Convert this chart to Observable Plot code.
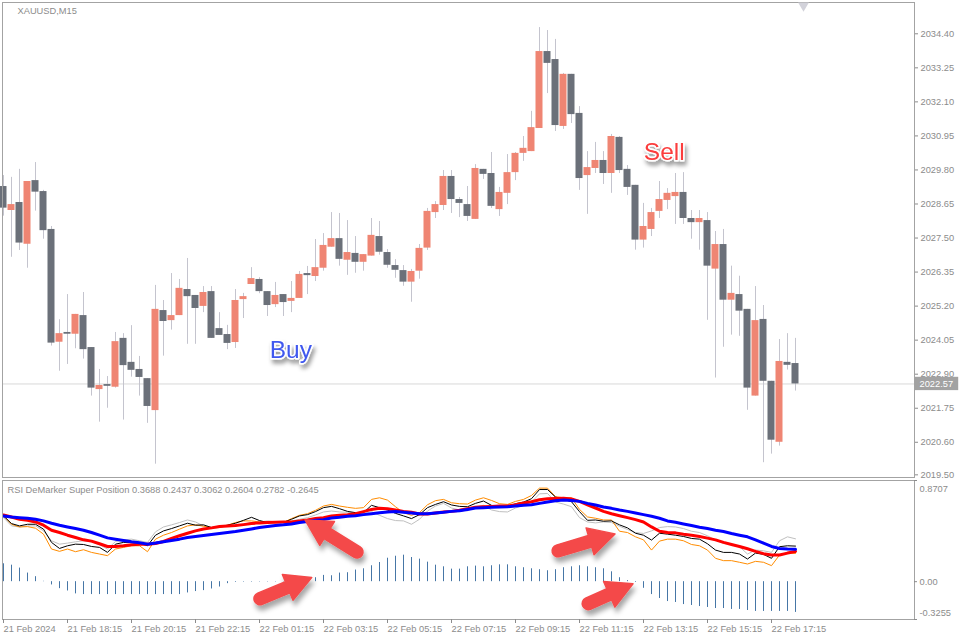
<!DOCTYPE html>
<html><head><meta charset="utf-8">
<script src="https://cdn.jsdelivr.net/npm/d3@7"></script>
<script src="https://cdn.jsdelivr.net/npm/@observablehq/plot@0.6"></script>
<style>
html,body{margin:0;padding:0;background:#fff;}
#wrap{position:relative;width:960px;height:640px;overflow:hidden;background:#fff;}
#main{position:absolute;left:0;top:0;}
#ind{position:absolute;left:0;top:478px;}
</style></head><body>
<svg width="0" height="0" style="position:absolute">
<defs>
<filter id="ashadow" x="-40%" y="-40%" width="180%" height="200%">
<feDropShadow dx="2" dy="5" stdDeviation="2.5" flood-color="#000" flood-opacity="0.35"/>
</filter>
<filter id="tshadow" x="-30%" y="-40%" width="160%" height="200%">
<feDropShadow dx="2" dy="4" stdDeviation="2" flood-color="#000" flood-opacity="0.4"/>
</filter>
</defs></svg>
<div id="wrap"><div id="main"></div><div id="ind"></div></div>
<script>
// ---- candles (XAUUSD M15) ----
const open = [2029.24,2028.43,2028.70,2027.29,2029.44,2029.07,2027.79,2023.98,2024.31,2024.25,
2024.88,2023.80,2022.38,2022.55,2022.46,2024.11,2023.30,2023.06,2022.75,2021.67,
2025.05,2024.71,2024.88,2025.76,2025.56,2025.19,2025.69,2024.44,2024.24,2023.97,
2025.42,2025.93,2026.10,2025.69,2025.25,2025.59,2025.36,2025.46,2026.30,2026.20,
2026.48,2027.19,2027.48,2026.75,2026.98,2026.68,2026.89,2027.55,2027.01,2026.57,
2026.40,2026.01,2026.38,2027.16,2028.36,2028.60,2029.58,2028.80,2028.63,2028.13,
2029.82,2029.68,2028.46,2029.01,2029.71,2030.36,2030.42,2031.20,2033.80,2033.53,
2031.27,2033.03,2031.71,2029.61,2029.85,2030.12,2029.68,2030.90,2029.82,2029.28,
2027.43,2027.79,2028.40,2028.77,2028.90,2029.04,2028.16,2028.02,2028.09,2026.45,
2027.28,2025.40,2025.59,2025.09,2022.16,2024.75,2022.66,2020.60,2023.30,2023.26];
const high = [2029.61,2029.55,2029.82,2029.41,2030.05,2029.11,2027.89,2024.74,2025.59,2024.92,
2025.66,2023.80,2023.06,2022.82,2024.31,2024.27,2024.54,2023.50,2022.75,2025.90,
2025.39,2026.30,2026.10,2026.81,2025.56,2025.86,2025.86,2024.98,2024.55,2025.76,
2025.63,2026.50,2026.16,2025.69,2026.00,2025.59,2026.03,2026.37,2026.54,2027.45,
2027.65,2028.36,2028.33,2028.09,2027.55,2026.94,2028.16,2028.06,2027.11,2026.77,
2026.57,2026.44,2027.28,2028.50,2028.73,2029.78,2029.78,2028.87,2029.24,2029.98,
2029.82,2030.39,2029.21,2030.32,2030.39,2030.93,2031.78,2034.61,2034.51,2034.21,
2033.06,2033.03,2031.94,2030.42,2030.73,2030.42,2031.00,2030.93,2029.95,2029.28,
2028.67,2028.50,2029.41,2029.17,2029.68,2029.71,2028.43,2028.43,2028.36,2027.72,
2027.79,2026.55,2026.21,2025.09,2025.86,2025.22,2022.66,2024.07,2024.27,2024.11];
const low = [2028.24,2026.85,2027.08,2026.48,2028.41,2027.46,2023.85,2023.00,2023.23,2023.76,
2023.41,2022.16,2021.28,2021.75,2022.43,2021.35,2022.80,2022.16,2021.24,2019.86,
2023.51,2024.39,2024.88,2023.91,2023.91,2024.98,2024.11,2024.21,2023.73,2023.77,
2024.78,2025.93,2025.62,2024.85,2025.15,2024.85,2024.98,2025.46,2025.59,2026.03,
2026.38,2027.19,2026.55,2026.24,2026.31,2026.38,2026.89,2026.92,2026.48,2026.14,
2025.87,2025.33,2026.11,2027.08,2028.16,2028.43,2028.33,2028.19,2028.06,2028.13,
2029.48,2028.50,2028.23,2028.63,2029.44,2030.09,2030.42,2031.20,2032.38,2031.10,
2031.17,2031.37,2029.11,2028.30,2029.68,2029.31,2029.01,2029.68,2028.94,2027.09,
2027.16,2027.55,2028.16,2028.46,2027.96,2027.96,2027.46,2027.09,2024.72,2022.77,
2023.81,2024.22,2024.18,2021.68,2022.16,2019.91,2020.20,2020.47,2023.04,2022.33];
const close = [2028.51,2028.63,2027.33,2029.41,2029.05,2027.75,2023.95,2024.27,2024.25,2024.92,
2023.73,2022.43,2022.52,2022.49,2024.00,2023.19,2023.03,2022.79,2021.81,2025.09,
2024.68,2024.88,2025.80,2025.52,2025.12,2025.66,2024.11,2024.21,2023.94,2025.39,
2025.52,2026.13,2025.69,2025.22,2025.56,2025.32,2025.46,2026.27,2026.23,2026.50,
2027.25,2027.48,2026.78,2027.01,2026.68,2026.94,2027.59,2027.02,2026.58,2026.41,
2026.01,2026.37,2027.15,2028.40,2028.63,2029.58,2028.80,2028.67,2028.23,2029.85,
2029.65,2028.57,2029.04,2029.71,2030.36,2030.53,2031.23,2033.80,2033.40,2031.30,
2033.03,2031.67,2029.51,2029.88,2030.12,2029.68,2030.93,2029.78,2029.21,2027.43,
2027.89,2028.36,2028.80,2029.01,2029.04,2028.16,2028.02,2028.16,2026.55,2027.28,
2025.40,2025.63,2025.03,2022.43,2024.71,2022.66,2020.67,2023.33,2023.20,2022.57];

// ---- indicator: RSI DeMarker Super Position ----
const grayLine = [.551,.480,.471,.480,.480,.437,.352,.323,.332,.343,.352,.343,.318,.281,.346,.360,.366,.352,.338,.429,.471,.489,.509,.531,.514,
.480,.457,.466,.480,.486,.494,.509,.514,.523,.514,.509,.523,.537,.551,.574,.600,.608,.600,.597,.594,.585,.603,.571,.543,.526,
.523,.494,.537,.608,.651,.674,.634,.617,.611,.645,.657,.617,.603,.600,.634,.657,.685,.756,.759,.685,.668,.645,.551,.514,.506,
.514,.509,.477,.449,.423,.415,.437,.466,.474,.471,.457,.434,.423,.395,.358,.329,.320,.301,.238,.272,.266,.252,.352,.386,.3688];
const orangeLine = [.566,.494,.471,.474,.460,.409,.281,.261,.281,.258,.275,.252,.238,.224,.281,.295,.309,.309,.258,.366,.400,.423,.452,.480,.489,
.477,.466,.466,.486,.509,.523,.523,.514,.517,.514,.509,.543,.571,.585,.614,.651,.665,.651,.640,.631,.637,.708,.722,.702,.645,
.594,.571,.594,.662,.697,.708,.679,.671,.668,.702,.722,.699,.671,.665,.691,.708,.742,.805,.805,.731,.722,.722,.622,.557,.546,
.531,.531,.434,.423,.386,.360,.272,.349,.366,.366,.352,.320,.309,.272,.201,.181,.181,.167,.152,.175,.167,.138,.229,.246,.2437];
const blackLine = [.566,.500,.480,.494,.494,.452,.338,.286,.309,.323,.320,.303,.295,.252,.323,.338,.338,.329,.309,.400,.437,.457,.480,.503,.486,
.489,.466,.474,.486,.503,.528,.554,.526,.509,.509,.511,.537,.566,.577,.603,.637,.648,.628,.605,.594,.594,.657,.637,.617,.588,
.566,.543,.577,.637,.665,.688,.660,.648,.645,.674,.694,.657,.640,.645,.671,.685,.714,.793,.793,.728,.708,.688,.603,.528,.531,
.520,.523,.489,.463,.417,.400,.358,.417,.409,.400,.389,.372,.366,.326,.272,.252,.252,.238,.195,.246,.235,.201,.301,.309,.3062];
const redLine = [.574,.557,.537,.528,.514,.486,.443,.423,.400,.380,.360,.349,.326,.303,.303,.309,.318,.323,.323,.329,.346,.372,.395,.417,.437,
.454,.463,.474,.480,.483,.491,.500,.506,.509,.511,.514,.514,.523,.531,.543,.551,.566,.571,.577,.585,.603,.622,.631,.628,.617,
.605,.597,.583,.583,.591,.600,.605,.614,.628,.640,.645,.648,.651,.651,.662,.677,.688,.705,.714,.716,.719,.711,.691,.662,.634,
.605,.585,.568,.551,.534,.514,.471,.434,.423,.420,.409,.400,.389,.375,.360,.338,.320,.303,.283,.261,.241,.229,.229,.246,.2604];
const blueLine = [.566,.557,.551,.546,.537,.523,.503,.486,.471,.457,.443,.423,.400,.377,.366,.355,.343,.335,.323,.332,.343,.355,.366,.380,.389,
.397,.406,.415,.423,.432,.443,.454,.466,.474,.483,.489,.497,.509,.517,.528,.534,.548,.554,.563,.568,.577,.585,.594,.600,.603,
.597,.591,.585,.585,.591,.597,.605,.611,.622,.634,.637,.640,.642,.645,.651,.657,.662,.674,.685,.697,.702,.699,.691,.674,.660,
.642,.631,.617,.605,.591,.577,.563,.546,.523,.511,.497,.483,.469,.457,.443,.432,.415,.400,.386,.360,.332,.303,.286,.281,.2782];
const hist = [.154,.142,.117,.074,.043,.003,-.028,-.060,-.080,-.105,-.111,-.111,-.111,-.111,-.111,-.111,-.111,-.111,-.111,-.111,-.111,-.111,-.111,-.097,-.085,
-.077,-.063,-.046,-.017,-.006,-.004,-.004,-.003,-.003,-.003,-.002,.002,.004,.017,.034,.054,.051,.074,.077,.100,.111,.137,.165,.202,.219,
.228,.208,.194,.168,.142,.128,.108,.108,.128,.134,.128,.137,.145,.145,.128,.120,.111,.103,.094,.103,.120,.128,.137,.128,.120,
.111,.085,.034,.009,-.006,-.057,-.111,-.145,-.171,-.179,-.197,-.205,-.214,-.222,-.231,-.231,-.239,-.239,-.248,-.256,-.256,-.256,-.256,-.256,-.2645];

// ---- tick labels ----
const priceTicks = [2034.40,2033.25,2032.10,2030.95,2029.80,2028.65,2027.50,2026.35,2025.20,2024.05,2022.90,2021.75,2020.60,2019.50];
const timeIdx = [0,8,16,24,32,40,48,56,64,72,80,88,96];
const timeLabels = ["21 Feb 2024","21 Feb 18:15","21 Feb 20:15","21 Feb 22:15","22 Feb 01:15","22 Feb 03:15","22 Feb 05:15","22 Feb 07:15","22 Feb 09:15","22 Feb 11:15","22 Feb 13:15","22 Feb 15:15","22 Feb 17:15"];
const indTicks = [0.8707, 0, -0.3255];
const legendText = "RSI DeMarker Super Position 0.3688 0.2437 0.3062 0.2604 0.2782 -0.2645";

// ---- annotations ----
const signals = [{t:"Buy", x:33.28, y:2023.71, c:"#4159ef"}, {t:"Sell", x:80.04, y:2030.41, c:"#fb3c3c"}];
const arrows = [
  {tailX:44.25, tailY:0.252, tipX:37.75, tipY:0.527},
  {tailX:32.12, tailY:-0.151, tipX:38.59, tipY:0.032},
  {tailX:69.37, tailY:0.261, tipX:76.50, tipY:0.407},
  {tailX:73.12, tailY:-0.194, tipX:78.75, tipY:-0.022}
];

const FONT = '"Liberation Sans", Arial, sans-serif';
const AX = "#8c8c8c", FRAME = "#a3a3a3", UP = "#ef8573", DOWN = "#6b7079", WICK = "#c4c4ce";
const X_DOMAIN = [-0.125, 113.875];
const idx = d3.range(open.length);
const last = close[close.length - 1];

const main = Plot.plot({
  width: 960, height: 478, marginTop: 2, marginBottom: 1, marginLeft: 2, marginRight: 46,
  style: {fontFamily: FONT, fontSize: "9.3px", background: "#fff", color: AX},
  x: {type: "linear", domain: X_DOMAIN, axis: null},
  y: {domain: [2019.41, 2035.457]},
  marks: [
    Plot.ruleY([last], {stroke: "#d8d8d8"}),
    Plot.ruleX(idx, {x: i => i, y1: i => low[i], y2: i => high[i], stroke: WICK}),
    Plot.rect(idx, {x1: i => i - 0.4375, x2: i => i + 0.4375,
      y1: i => Math.min(open[i], close[i]), y2: i => Math.max(open[i], close[i]),
      fill: i => close[i] >= open[i] ? UP : DOWN}),
    Plot.axisY(priceTicks, {anchor: "right", tickSize: 3, tickPadding: 3, tickFormat: d => d.toFixed(2), color: AX, label: null}),
    Plot.rect([last], {x1: 113.95, x2: 119.4, y1: d => d - 0.225, y2: d => d + 0.225, fill: "#a2a2a2"}),
    Plot.text([last], {x: 114.0, y: d => d, text: d => d.toFixed(2), fill: "#fff", textAnchor: "start", dx: 4}),
    Plot.frame({stroke: FRAME}),
    Plot.text(["XAUUSD,M15"], {frameAnchor: "top-left", dx: 15, dy: 5, textAnchor: "start", lineAnchor: "top", fill: AX}),
    Plot.dot([100], {x: d => d, frameAnchor: "top", dy: 3, symbol: "triangle", rotate: 180, r: 4, fill: "#d2d2da", stroke: null}),
    Plot.text(signals, {x: "x", y: "y", text: "t", fill: "c", fontSize: 24.5, textAnchor: "start", stroke: "#fff", strokeWidth: 3, fontFamily: FONT})
  ]
});
document.getElementById("main").appendChild(main);

function arrowMark(index, scales) {
  const g = d3.create("svg:g").attr("filter", "url(#ashadow)");
  const H = 26, hw = 14, sw = 6;
  for (const a of arrows) {
    const sx = scales.x(a.tailX), sy = scales.y(a.tailY), tx = scales.x(a.tipX), ty = scales.y(a.tipY);
    const L = Math.hypot(tx - sx, ty - sy), ux = (tx - sx) / L, uy = (ty - sy) / L, nx = -uy, ny = ux;
    const bx = tx - ux * H, by = ty - uy * H;
    const p = (x, y) => `${x.toFixed(2)},${y.toFixed(2)}`;
    const d = `M${p(tx, ty)}L${p(bx + nx * hw, by + ny * hw)}L${p(bx + nx * sw, by + ny * sw)}L${p(sx + nx * sw, sy + ny * sw)}` +
      `A${sw},${sw} 0 0 1 ${p(sx - nx * sw, sy - ny * sw)}L${p(bx - nx * sw, by - ny * sw)}L${p(bx - nx * hw, by - ny * hw)}Z`;
    g.append("path").attr("d", d).attr("fill", "#f44a4a").attr("stroke", "#f44a4a").attr("stroke-width", 1.5).attr("stroke-linejoin", "round");
  }
  return g.node();
}

const ind = Plot.plot({
  width: 960, height: 162, marginTop: 2, marginBottom: 21, marginLeft: 2, marginRight: 46,
  style: {fontFamily: FONT, fontSize: "9.3px", background: "#fff", color: AX},
  x: {type: "linear", domain: X_DOMAIN},
  y: {domain: [-0.3255, 0.8707], axis: null},
  marks: [
    Plot.ruleX(idx, {x: i => i, y1: 0, y2: i => hist[i], stroke: "#4676a6"}),
    Plot.lineY(grayLine, {x: (d, i) => i, y: d => d, stroke: "#c0c0c0", strokeWidth: 1}),
    Plot.lineY(orangeLine, {x: (d, i) => i, y: d => d, stroke: "#ff8c00", strokeWidth: 1}),
    Plot.lineY(blackLine, {x: (d, i) => i, y: d => d, stroke: "#000", strokeWidth: 1}),
    Plot.lineY(redLine, {x: (d, i) => i, y: d => d, stroke: "#ff0000", strokeWidth: 3}),
    Plot.lineY(blueLine, {x: (d, i) => i, y: d => d, stroke: "#0000ff", strokeWidth: 3}),
    Plot.frame({stroke: FRAME}),
    Plot.axisX(timeIdx, {anchor: "bottom", tickSize: 4, tickPadding: 2, tickFormat: d => timeLabels[timeIdx.indexOf(d)], textAnchor: "start", color: AX, label: null}),
    Plot.ruleY(indTicks, {x1: 113.875, x2: 114.25, stroke: AX}),
    Plot.text([indTicks[0]], {y: d => d, frameAnchor: "right", dx: 5, dy: 8.5, textAnchor: "start", text: d => d.toFixed(4), fill: AX}),
    Plot.text([indTicks[1]], {y: d => d, frameAnchor: "right", dx: 5, dy: 0.5, textAnchor: "start", text: d => d.toFixed(2), fill: AX}),
    Plot.text([indTicks[2]], {y: d => d, frameAnchor: "right", dx: 5, dy: -6.3, textAnchor: "start", text: d => d.toFixed(4), fill: AX}),
    Plot.text([legendText], {frameAnchor: "top-left", dx: 5, dy: 5.5, textAnchor: "start", lineAnchor: "top", fill: AX}),
    arrowMark
  ]
});
document.getElementById("ind").appendChild(ind);

// soft shadow under Buy / Sell labels
d3.select(main).selectAll("text").each(function() {
  const t = this.textContent;
  if (t === "Buy" || t === "Sell") this.setAttribute("filter", "url(#tshadow)");
});
</script>
</body></html>
